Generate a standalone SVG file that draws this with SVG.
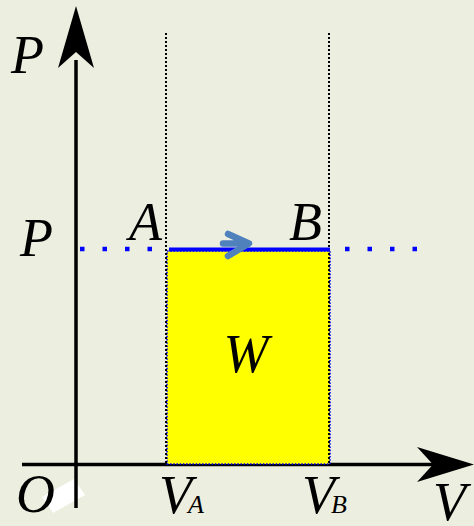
<svg xmlns="http://www.w3.org/2000/svg" width="474" height="526" viewBox="0 0 474 526">
<style>
.lbl{font-family:"Liberation Serif","Times New Roman",serif;font-style:italic;fill:#000}
.big{font-size:54px}
.sub{font-size:26px}
.axis{stroke:#000;stroke-width:3.5;fill:none}
.guide{stroke:#000;stroke-width:2;stroke-dasharray:2 2;fill:none}
.bdot{stroke:#0000ff;stroke-width:4.5;stroke-dasharray:4.5 18}
</style>
<rect width="474" height="526" fill="#ECEFDF"/>
<g id="connectors">
<polygon id="white-patch" points="42,497 74,479 85,495 53,513" fill="#ffffff"/>
<line class="axis" x1="22" y1="464.5" x2="440" y2="464.5"/>
<polygon points="474,464.5 417,447 433,464.5 417,482" fill="#000"/>
<line class="axis" x1="76" y1="508" x2="76" y2="60"/>
<polygon points="76,6 58,68 76,52 94,68" fill="#000"/>
<line class="bdot" x1="80" y1="249" x2="160" y2="249"/>
<line class="bdot" x1="345" y1="249" x2="425" y2="249"/>
</g>
<g id="area-W">
<rect x="167" y="251" width="163" height="213" fill="#ffff00" stroke="#0000ff" stroke-width="1.6" stroke-dasharray="1.6 1.6"/>
<text class="lbl big" x="246" y="372" text-anchor="middle">W</text>
</g>
<g id="guides">
<line class="guide" x1="166" y1="33" x2="166" y2="464"/>
<line class="guide" x1="329" y1="33" x2="329" y2="464"/>
</g>
<g id="process-AB">
<line x1="169" y1="249.5" x2="330" y2="249.5" stroke="#0000ff" stroke-width="4"/>
<path d="M223,243.5 H247 M228,234 L249,243.5 L228,256" fill="none" stroke="#4F81BD" stroke-width="6.5" stroke-linecap="round" stroke-linejoin="round"/>
</g>
<g id="labels">
<text class="lbl big" x="11" y="73">P</text>
<text class="lbl big" x="20" y="256">P</text>
<text class="lbl big" x="129" y="240">A</text>
<text class="lbl big" x="289" y="240">B</text>
<text class="lbl big" x="16" y="512">O</text>
<text class="lbl big" x="159" y="513">V<tspan class="sub" dx="-4">A</tspan></text>
<text class="lbl big" x="302" y="513">V<tspan class="sub" dx="-4">B</tspan></text>
<text class="lbl big" x="433" y="520">V</text>
</g>
</svg>
